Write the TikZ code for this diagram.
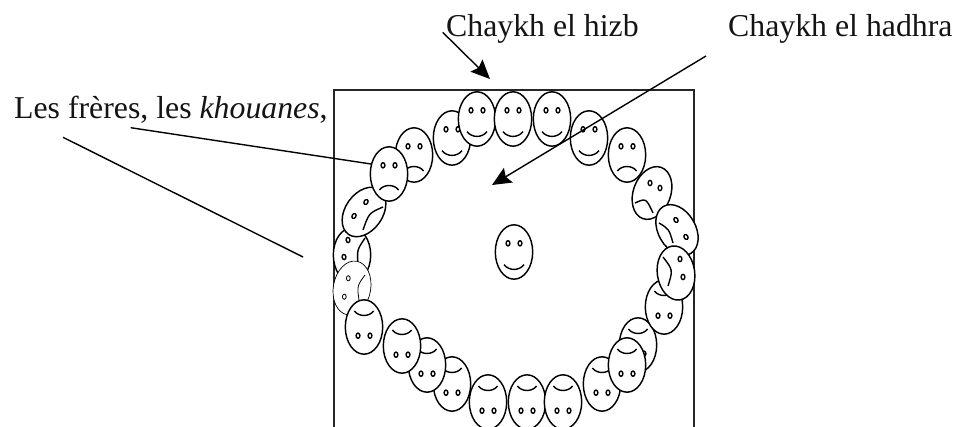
\documentclass[tikz,border=0pt]{standalone}
\usepackage{fontspec}
\setmainfont{Liberation Serif}
\usetikzlibrary{arrows.meta}
\tikzset{
  x=1pt,y=-1pt,
  facestyle/.style={draw=black,fill=white,line width=1.45pt},
  featstyle/.style={draw=black,line width=1.4pt},
  thinface/.style={draw=black,fill=white,line width=.7pt},
  thinfeat/.style={draw=black,line width=.8pt},
  leader/.style={draw=black,line width=1.4pt},
  headed/.style={leader,-{Stealth[length=19pt,width=17pt,inset=3pt]}},
  txtlabel/.style={font=\fontsize{31.8}{36}\selectfont,inner sep=0pt,anchor=base west,text=black!92}
}
% upright or upside-down face: x, y, rotation, mouth (1 smile, -1 frown)
\newcommand{\fc}[4]{%
\begin{scope}[shift={(#1,#2)},rotate=#3]
  \path[facestyle] (0,0) ellipse [x radius=18.7,y radius=27.2];
  \draw[featstyle] (-6,-8.7) ellipse [x radius=1.9,y radius=2.6];
  \draw[featstyle] (6,-8.7) ellipse [x radius=1.9,y radius=2.6];
  \ifnum#4=1
    \draw[featstyle] (-10,12.7) .. controls (-5,19) and (5,19) .. (10,12.7);
  \else
    \draw[featstyle] (-9.7,16) .. controls (-5,10) and (5,10) .. (9.7,16);
  \fi
\end{scope}}
% skewed face: x, y, ellipse rotation, eye 1, eye 2, eye tilt, mouth start, control, end
\newcommand{\fs}[9]{%
  \path[facestyle,rotate around={#3:(#1,#2)}] (#1,#2) ellipse [x radius=18.7,y radius=27.2];
  \draw[featstyle,rotate around={#6:(#4)}] (#4) ellipse [x radius=1.9,y radius=2.6];
  \draw[featstyle,rotate around={#6:(#5)}] (#5) ellipse [x radius=1.9,y radius=2.6];
  \draw[featstyle] (#7) .. controls (#8) .. (#9);}
\begin{document}
\begin{tikzpicture}
\useasboundingbox (0,0) rectangle (963,427);
\clip (0,0) rectangle (963,427);
\fill[white] (0,0) rectangle (963,427);
\coordinate (rtl) at (334,90);
\coordinate (rtr) at (694,90);
\coordinate (rbl) at (334,430);
\coordinate (rbr) at (694,430);
\draw[line width=1.7pt,black!85] (rbl) -- (rtl) -- (rtr) -- (rbr);
% top arc
\fc{414}{155}{0}{-1}
\fc{452}{138}{0}{1}
\fc{477}{119}{0}{1}
\fc{513}{119}{0}{1}
\fc{552}{119}{0}{1}
\fc{627}{155}{0}{-1}
\fc{589}{138}{0}{1}
\fs{652}{193}{-20}{650,183}{660,188}{0}{635,203}{646,198}{653,213}
\fs{677}{230}{30}{676,220}{686,237}{30}{659,223}{669,229}{673,243}
% left side
\fs{352}{255}{0}{348,240}{344,257}{10}{365,238}{357,250}{358,264}
\begin{scope}
  \path[thinface,rotate around={-10:(352,288)}] (352,288) ellipse [x radius=18.7,y radius=27.2];
  \draw[thinfeat] (348.3,278.3) ellipse [x radius=1.9,y radius=2.6];
  \draw[thinfeat] (344.3,296.7) ellipse [x radius=1.9,y radius=2.6];
  \draw[thinfeat] (365,275) .. controls (357,286) .. (359,300);
\end{scope}
\fs{364}{212}{-35}{366,202}{354,216}{-30}{383,207}{369,213}{363,230}
\fc{389}{174}{0}{-1}
% bottom arc
\fc{364}{327}{180}{-1}
\fc{452}{384}{180}{-1}
\fc{427}{365}{180}{-1}
\fc{402}{346}{180}{-1}
\fc{488}{402}{180}{-1}
\fc{527}{402}{180}{-1}
\fc{563}{402}{180}{-1}
\fc{602}{384}{180}{-1}
\fc{638}{345}{180}{-1}
\fc{627}{365}{180}{-1}
\fc{664}{307}{180}{-1}
\fs{676}{273}{8}{680,259}{683,277}{0}{663,257}{673,270}{668,286}
% centre
\fc{514}{252}{0}{1}
% leaders
\coordinate (hizbA) at (442.7,32.3);
\coordinate (hizbB) at (490,79);
\coordinate (hadhraA) at (706,56);
\coordinate (hadhraB) at (492,185);
\coordinate (frA) at (130.7,127.7);
\coordinate (frB) at (371,164);
\coordinate (brA) at (63,137.3);
\coordinate (brB) at (303,257);
\draw[headed] (hizbA) -- (hizbB);
\draw[headed] (hadhraA) -- (hadhraB);
\draw[leader] (frA) -- (frB);
\draw[leader] (brA) -- (brB);
\node[txtlabel] (hizb) at (446,37) {Chaykh el hizb};
\node[txtlabel] (hadhra) at (728,37) {Chaykh el hadhra};
\node[txtlabel] (freres) at (14,119) {Les frères, les \textit{khouanes},};
\end{tikzpicture}
\end{document}
